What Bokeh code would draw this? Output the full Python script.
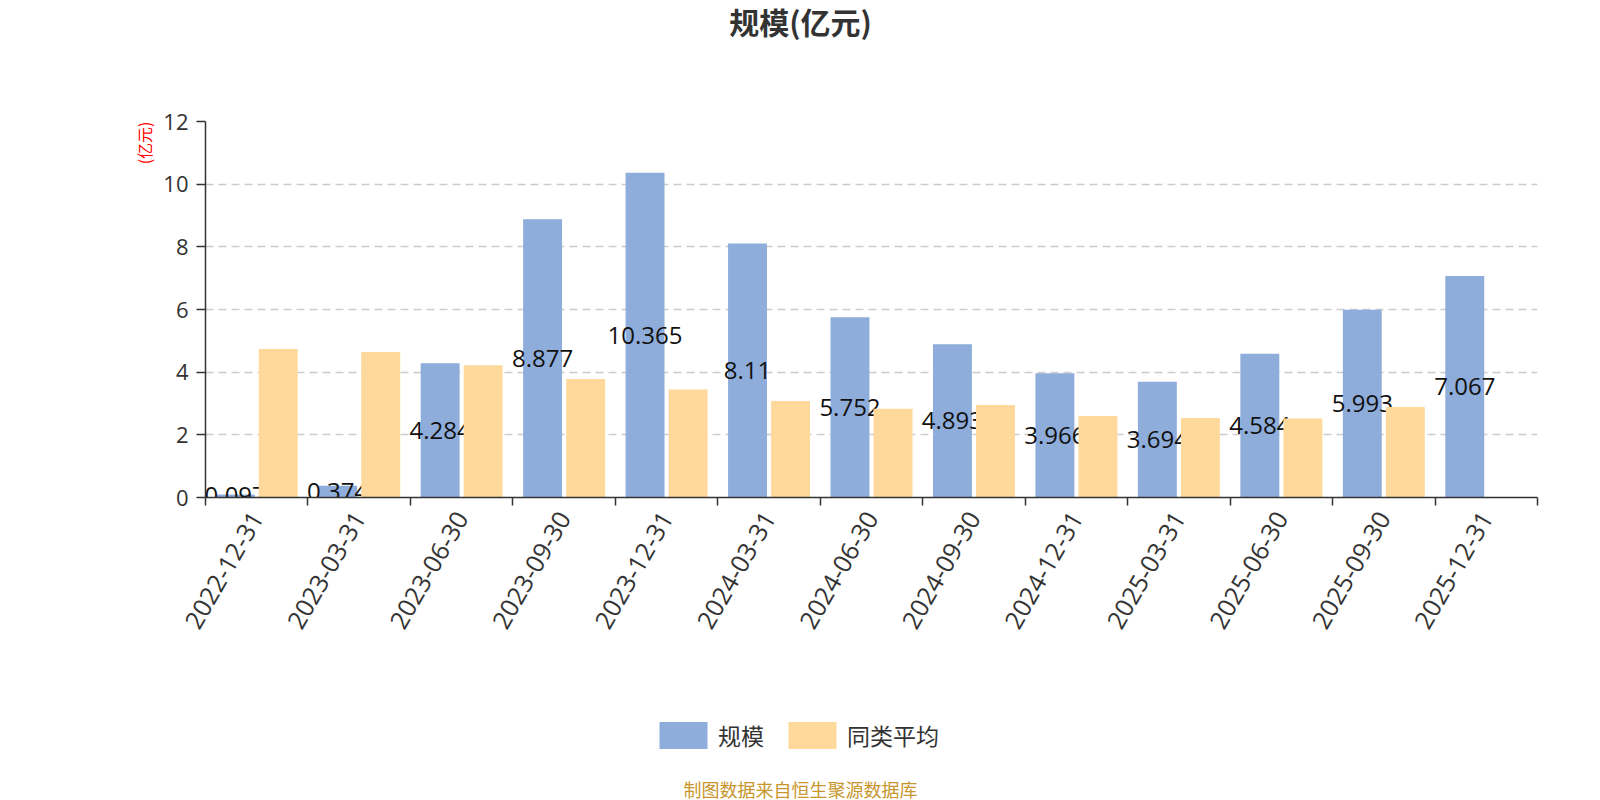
import math
from bokeh.plotting import figure
from bokeh.layouts import column
from bokeh.models import Range1d, FixedTicker, Legend, LegendItem, ColumnDataSource, Title, Label
from bokeh.core.properties import value
from bokeh.embed import file_html
from bokeh.resources import INLINE

categories = ["2022-12-31", "2023-03-31", "2023-06-30", "2023-09-30", "2023-12-31",
              "2024-03-31", "2024-06-30", "2024-09-30", "2024-12-31", "2025-03-31",
              "2025-06-30", "2025-09-30", "2025-12-31"]
scale_values = [0.097, 0.374, 4.284, 8.877, 10.365, 8.11, 5.752, 4.893, 3.966, 3.694, 4.584, 5.993, 7.067]
peer_avg = [4.74, 4.64, 4.22, 3.78, 3.45, 3.08, 2.83, 2.95, 2.60, 2.54, 2.52, 2.89, None]
y_ticks = [0, 2, 4, 6, 8, 10, 12]

series_names = ["规模", "同类平均"]
title_text = "规模(亿元)"
y_name = "(亿元)"
footer_text = "制图数据来自恒生聚源数据库"

BLUE = "#8eaddb"
ORANGE = "#ffd99b"

n = len(categories)
centers = [i + 0.5 for i in range(n)]

src_blue = ColumnDataSource(dict(
    x=[c - 0.21 for c in centers],
    top=scale_values,
    mid=[v / 2 for v in scale_values],
    label=[str(v) for v in scale_values],
))
idx_o = [i for i, v in enumerate(peer_avg) if v is not None]
src_orange = ColumnDataSource(dict(
    x=[centers[i] + 0.21 for i in idx_o],
    top=[peer_avg[i] for i in idx_o],
))

FRAME_LEFT = 205  # frames of the stacked figures are aligned

# ---- top strip: title ----
t = figure(width=1600, height=60, x_range=Range1d(0, 1), y_range=Range1d(0, 1),
           x_axis_type=None, y_axis_type=None, output_backend="svg", toolbar_location=None,
           min_border=0)
t.outline_line_color = None
t.add_layout(Label(x=800 - FRAME_LEFT, y=40, x_units="screen", y_units="screen", text=title_text,
                   text_align="center", text_baseline="middle",
                   text_font="Noto Sans CJK SC", text_font_style="bold",
                   text_font_size="30px", text_color="#333333"))

# ---- main chart ----
p = figure(width=1600, height=640, x_range=Range1d(0, n), y_range=Range1d(0, 12),
           output_backend="svg", toolbar_location=None,
           min_border_left=FRAME_LEFT, min_border_right=63, min_border_top=61, min_border_bottom=203)
p.outline_line_color = None
p.background_fill_color = "white"

# x axis
p.xaxis.ticker = FixedTicker(ticks=centers, minor_ticks=list(range(n + 1)))
p.xaxis.major_label_overrides = {c: cat for c, cat in zip(centers, categories)}
p.xaxis.major_tick_line_color = None
p.xaxis.minor_tick_out = 8
p.xaxis.minor_tick_in = 0
p.xaxis.minor_tick_line_color = "#333333"
p.xaxis.minor_tick_line_width = 1.5
p.xaxis.axis_line_color = "#333333"
p.xaxis.axis_line_width = 1.5
p.xaxis.major_label_orientation = math.pi / 3
p.xaxis.major_label_text_font = "Open Sans"
p.xaxis.major_label_text_font_size = "25px"
p.xaxis.major_label_text_color = "#333333"
p.xaxis.major_label_standoff = 8

# y axis
p.yaxis.ticker = FixedTicker(ticks=y_ticks)
p.yaxis.major_tick_out = 9
p.yaxis.major_tick_in = 0
p.yaxis.minor_tick_line_color = None
p.yaxis.major_tick_line_color = "#333333"
p.yaxis.major_tick_line_width = 1.5
p.yaxis.axis_line_color = "#333333"
p.yaxis.axis_line_width = 1.5
p.yaxis.major_label_text_font = "Open Sans"
p.yaxis.major_label_text_font_size = "22px"
p.yaxis.major_label_text_color = "#333333"
p.yaxis.major_label_standoff = 8

p.xgrid.grid_line_color = None
p.ygrid.grid_line_color = "#cccccc"
p.ygrid.grid_line_dash = "8 5"
p.ygrid.grid_line_width = 1.5

rb = p.vbar(x="x", top="top", width=0.38, bottom=0, source=src_blue,
            fill_color=BLUE, line_color=None)
p.text(x="x", y="mid", text="label", source=src_blue, text_align="center",
       text_baseline="middle", text_font=value("Open Sans"), text_font_size="24px",
       text_color="#111111")
ro = p.vbar(x="x", top="top", width=0.38, bottom=0, source=src_orange,
            fill_color=ORANGE, line_color=None)

# y-axis name (top of left side)
p.add_layout(Title(text=y_name, align="right", offset=0, standoff=10,
                   text_font="Noto Sans CJK SC", text_font_size="16px",
                   text_font_style="normal", text_color="#ff0000"), "left")

# ---- bottom strip: legend + source note ----
q = figure(width=1600, height=100, x_range=Range1d(1000, 1100), y_range=Range1d(1000, 1100),
           x_axis_type=None, y_axis_type=None, output_backend="svg", toolbar_location=None,
           min_border=0)
q.outline_line_color = None
# same series, far out of view here: only their legend swatches are shown
lb = q.vbar(x="x", top="top", width=0.38, bottom=0, source=src_blue,
            fill_color=BLUE, line_color=None)
lo = q.vbar(x="x", top="top", width=0.38, bottom=0, source=src_orange,
            fill_color=ORANGE, line_color=None)

legend = Legend(items=[LegendItem(label=series_names[0], renderers=[lb]),
                       LegendItem(label=series_names[1], renderers=[lo])],
                location=(448, 48), orientation="horizontal",
                glyph_width=60, glyph_height=34, label_height=34,
                label_standoff=5, spacing=18, padding=0, margin=0,
                border_line_color=None, background_fill_alpha=0,
                label_text_font="Noto Sans CJK SC", label_text_font_size="23px",
                label_text_color="#333333")
q.add_layout(legend, "center")
q.add_layout(Label(x=800 - FRAME_LEFT, y=12, x_units="screen", y_units="screen", text=footer_text,
                   text_align="center", text_baseline="middle",
                   text_font="Noto Sans CJK SC", text_font_size="18px", text_color="#c8962d"))

open("out.html", "w").write(file_html(column(t, p, q, spacing=0), INLINE))
